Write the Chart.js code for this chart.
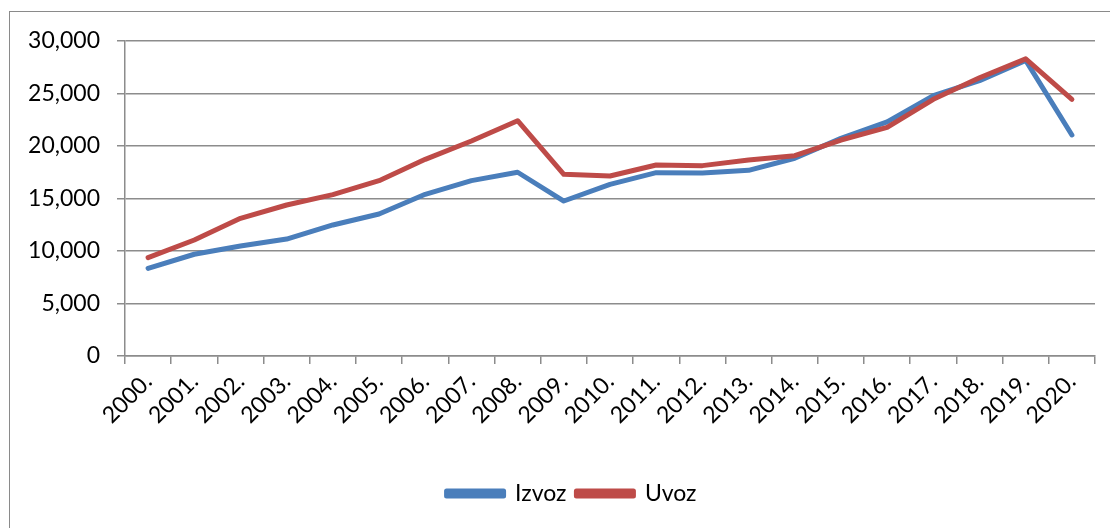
<!DOCTYPE html>
<html>
<head>
<meta charset="utf-8">
<script src="https://cdn.jsdelivr.net/npm/chart.js@4"></script>
<style>
  html, body { margin: 0; padding: 0; background: #fff; overflow: hidden; }
  #wrap { position: relative; width: 1110px; height: 528px; }
  #frame {
    position: absolute; left: 9px; top: 11px; width: 1200px; height: 700px;
    border: 1.5px solid #8a8a8a; box-sizing: border-box;
  }
  canvas { position: absolute; left: 0; top: 0; }
</style>
</head>
<body>
<div id="wrap">
  <div id="frame"></div>
  <canvas id="chart" width="1110" height="528"></canvas>
</div>
<script>
// Godine (kategorije na osi X)
const years = ['2000.', '2001.', '2002.', '2003.', '2004.', '2005.', '2006.', '2007.', '2008.', '2009.',
  '2010.', '2011.', '2012.', '2013.', '2014.', '2015.', '2016.', '2017.', '2018.', '2019.', '2020.'];

// Vrijednosti očitane sa slike
const izvoz = [8350, 9690, 10480, 11140, 12480, 13520, 15400, 16700, 17500, 14760,
  16350, 17460, 17430, 17680, 18830, 20730, 22300, 24790, 26220, 28150, 21050];
const uvoz = [9370, 11050, 13110, 14380, 15370, 16700, 18730, 20480, 22410, 17300,
  17140, 18190, 18130, 18670, 19080, 20570, 21780, 24450, 26500, 28300, 24450];

const yTicks = [0, 5000, 10000, 15000, 20000, 25000, 30000];

const BLUE = '#4a7ebb';
const RED = '#be4b48';
const GRID = '#8c8c8c';
const FONT = 'Lato, "Open Sans", sans-serif';

// legenda je u originalu malo desno od sredine platna
const legendShift = {
  id: 'legendShift',
  afterLayout(chart) {
    if (!chart.legend) return;
    chart.legend.left += 24;
    chart.legend.right += 24;
  }
};

const ctx = document.getElementById('chart').getContext('2d');
new Chart(ctx, {
  type: 'line',
  data: {
    labels: years,
    datasets: [
      {
        label: 'Izvoz',
        data: izvoz,
        borderColor: BLUE,
        backgroundColor: BLUE,
        borderWidth: 5,
        pointRadius: 0,
        tension: 0,
        borderCapStyle: 'round',
        borderJoinStyle: 'round',
        order: 1
      },
      {
        label: 'Uvoz',
        data: uvoz,
        borderColor: RED,
        backgroundColor: RED,
        borderWidth: 5,
        pointRadius: 0,
        tension: 0,
        borderCapStyle: 'round',
        borderJoinStyle: 'round',
        order: 0   // crvena linija iznad plave
      }
    ]
  },
  plugins: [legendShift],
  options: {
    responsive: false,
    animation: false,
    devicePixelRatio: 1,
    layout: { padding: { left: 0, top: 41, right: 15, bottom: 13 } },
    plugins: {
      tooltip: { enabled: false },
      legend: {
        position: 'bottom',
        reverse: true,
        labels: {
          color: '#000',
          boxWidth: 57,
          boxHeight: 5,
          padding: 10,
          font: { family: FONT, size: 23 }
        }
      }
    },
    scales: {
      x: {
        offset: true,
        grid: {
          offset: true,
          drawOnChartArea: false,
          drawTicks: true,
          tickLength: 8,
          color: GRID,
          lineWidth: 1.5
        },
        border: { display: true, color: GRID, width: 1.5 },
        ticks: {
          color: '#000',
          minRotation: 45,
          maxRotation: 45,
          autoSkip: false,
          padding: 4,
          font: { family: FONT, size: 23 }
        },
        afterFit: s => { s.height = 116; }
      },
      y: {
        min: 0,
        max: 30000,
        afterBuildTicks: s => { s.ticks = yTicks.map(v => ({ value: v })); },
        grid: { color: GRID, lineWidth: 1.5, tickLength: 8 },
        border: { display: true, color: GRID, width: 1.5 },
        ticks: {
          color: '#000',
          padding: 17,
          font: { family: FONT, size: 23 },
          callback: v => v.toLocaleString('en-US')
        },
        afterFit: s => { s.width = 125; }
      }
    }
  }
});
</script>
</body>
</html>
